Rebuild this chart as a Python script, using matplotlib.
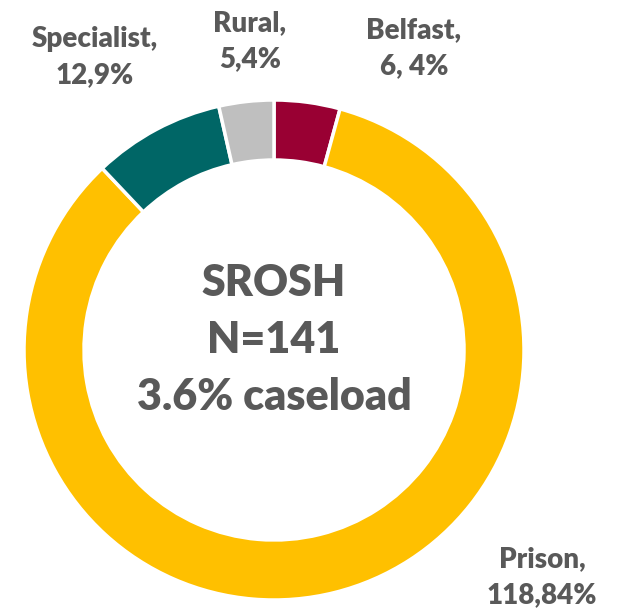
import matplotlib.pyplot as plt

# slices, clockwise from 12 o'clock
categories = ['Belfast', 'Prison', 'Specialist', 'Rural']
counts = [6, 118, 12, 5]
label_texts = ['Belfast,\n6, 4%', 'Prison,\n118,84%', 'Specialist,\n12,9%', 'Rural,\n5,4%']
colours = ['#990033', '#FFC000', '#006666', '#BFBFBF']
centre_text = 'SROSH\nN=141\n3.6% caseload'

W, H = 620, 616
fig = plt.figure(figsize=(W / 100, H / 100), dpi=100)
ax = fig.add_axes([0, 0, 1, 1])

cx, cy, r = 274, H - 350, 250
ax.pie(counts, colors=colours, startangle=90, counterclock=False,
       center=(cx, cy), radius=r, frame=True,
       wedgeprops=dict(width=60, edgecolor='white', linewidth=2.5))
ax.set_xlim(0, W)
ax.set_ylim(0, H)
ax.axis('off')

grey = '#595959'
font = ['Lato', 'DejaVu Sans']
ax.text(cx, H - 340, centre_text, ha='center', va='center', fontsize=31,
        fontweight='heavy', color=grey, family=font, linespacing=1.5)

# label positions (centre of each text block, in pixels from top-left)
label_pos = {'Belfast': (414, 48), 'Prison': (542, 577),
             'Specialist': (95, 57), 'Rural': (250, 41)}
for cat, txt in zip(categories, label_texts):
    x, y = label_pos[cat]
    ax.text(x, H - y, txt, ha='center', va='center', fontsize=20,
            fontweight='heavy', color=grey, family=font, linespacing=1.5)

fig.savefig('out.png', dpi=100)
